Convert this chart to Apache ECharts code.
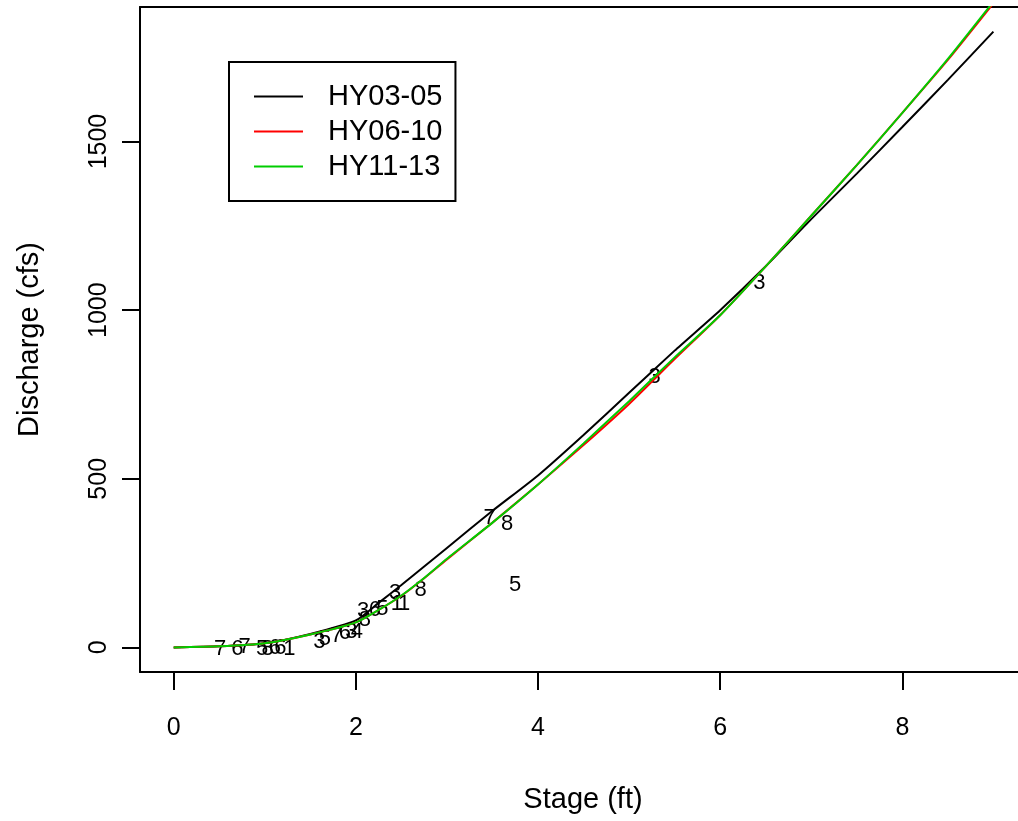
<!DOCTYPE html>
<html>
<head>
<meta charset="utf-8">
<script src="https://cdn.jsdelivr.net/npm/echarts@6/dist/echarts.min.js"></script>
<style>
html,body{margin:0;padding:0;background:#fff;}
#chart{width:1018px;height:821px;}
</style>
</head>
<body>
<div id="chart"></div>
<script>
// Stage values (ft) where rating curves are sampled
const stage = [0, 0.5, 1, 1.5, 2, 2.25, 2.5, 2.75, 3, 3.5, 4, 4.5, 5, 5.5, 6, 6.5, 7, 7.5, 8, 8.5, 9];
// Discharge (cfs) for each rating period
const qHY0305 = [0, 3, 12, 40, 80, 132, 185, 240, 295, 405, 510, 630, 755, 880, 1000, 1130, 1270, 1405, 1543, 1683, 1826];
const qHY0610 = [0, 3, 12, 38, 74, 111, 153, 205, 261, 370, 483, 600, 722, 855, 985, 1130, 1280, 1430, 1585, 1742, 1910];
const qHY1113 = [0, 3, 12, 38, 74, 111, 154, 206, 263, 370, 483, 605, 730, 860, 985, 1130, 1280, 1430, 1585, 1745, 1915];
// Measurements: stage, discharge, plotted digit
const measStage = [0.51, 0.70, 0.78, 0.97, 1.03, 1.11, 1.17, 1.27, 1.60, 1.66, 1.79, 1.88, 1.95, 2.01, 2.08, 2.10, 2.21, 2.29, 2.43, 2.45, 2.53, 2.71, 3.47, 3.66, 3.75, 5.28, 6.43];
const measQ     = [-5, -6, 1, -5, -5, -3, -1, -4, 15, 24, 33, 42, 45, 47, 107, 80, 110, 113, 160, 128, 130, 169, 385, 365, 184, 803, 1082];
const measTag   = ['7','6','7','5','8','6','6','1','3','5','7','6','3','4','3','8','6','5','3','1','1','8','7','8','5','3','3'];
// Axis ticks
const xTicks = [0, 2, 4, 6, 8];
const yTicks = [0, 500, 1000, 1500];

const names = ['HY03-05', 'HY06-10', 'HY11-13'];
const colors = ['#000000', '#FF0000', '#00CD00'];
const curves = [qHY0305, qHY0610, qHY1113];

const FONT = 'Liberation Sans, Arial, Helvetica, sans-serif';
const chart = echarts.init(document.getElementById('chart'), null, {renderer: 'canvas'});

const lineSeries = curves.map((q, i) => ({
  name: names[i],
  type: 'line',
  data: stage.map((s, k) => [s, q[k]]),
  symbol: 'none',
  showSymbol: false,
  smooth: 0.2,
  lineStyle: {color: colors[i], width: 2},
  itemStyle: {color: colors[i]},
  clip: true,
  z: 3 + i,
  animation: false
}));

const scatter = {
  type: 'scatter',
  data: measStage.map((s, k) => [s, measQ[k], measTag[k]]),
  symbol: 'circle',
  symbolSize: 0.01,
  itemStyle: {color: '#000000', opacity: 1},
  label: {
    show: true,
    position: [0, 0],
    align: 'center',
    verticalAlign: 'middle',
    formatter: p => p.value[2],
    color: '#000000',
    textBorderWidth: 0,
    fontFamily: FONT,
    fontSize: 22
  },
  labelLayout: {hideOverlap: false},
  emphasis: {disabled: true},
  z: 2,
  animation: false
};

const XMIN = -0.37, XMAX = 9.27;

chart.setOption({
  animation: false,
  backgroundColor: '#ffffff',
  textStyle: {fontFamily: FONT},
  grid: {left: 140, top: 7, right: 0, bottom: 149, show: false, containLabel: false},
  legend: {
    data: names,
    left: 229, top: 62,
    orient: 'vertical',
    borderColor: '#000', borderWidth: 2,
    padding: [20, 13, 20, 25],
    itemGap: 6,
    itemWidth: 49, itemHeight: 2,
    icon: 'rect',
    selectedMode: false,
    textStyle: {fontFamily: FONT, fontSize: 29, color: '#000', padding: [0, 0, 0, 20]}
  },
  xAxis: [{
    type: 'value',
    position: 'bottom',
    min: XMIN, max: XMAX,
    name: 'Stage (ft)',
    nameLocation: 'middle',
    nameGap: 113,
    nameTextStyle: {fontFamily: FONT, fontSize: 29, color: '#000', padding: [0, 0, 0, 8]},
    axisLine: {show: true, onZero: false, lineStyle: {color: '#000', width: 2}},
    splitLine: {show: false},
    axisTick: {show: true, length: 18, lineStyle: {color: '#000', width: 2}, customValues: xTicks},
    axisLabel: {show: true, margin: 44, fontFamily: FONT, fontSize: 25, color: '#000', customValues: xTicks,
      formatter: v => String(v)}
  }, {
    type: 'value',
    position: 'top',
    min: XMIN, max: XMAX,
    axisLine: {show: true, onZero: false, lineStyle: {color: '#000', width: 2}},
    splitLine: {show: false},
    axisTick: {show: false},
    axisLabel: {show: false}
  }],
  yAxis: {
    type: 'value',
    min: -73, max: 1899,
    name: 'Discharge (cfs)',
    nameLocation: 'middle',
    nameGap: 96,
    nameTextStyle: {fontFamily: FONT, fontSize: 29, color: '#000'},
    axisLine: {show: true, onZero: false, lineStyle: {color: '#000', width: 2}},
    splitLine: {show: false},
    axisTick: {show: true, length: 18, lineStyle: {color: '#000', width: 2}, customValues: yTicks},
    axisLabel: {show: true, rotate: 90, margin: 28, fontFamily: FONT, fontSize: 25, color: '#000', customValues: yTicks,
      formatter: v => String(v)}
  },
  series: [scatter].concat(lineSeries)
});
</script>
</body>
</html>
